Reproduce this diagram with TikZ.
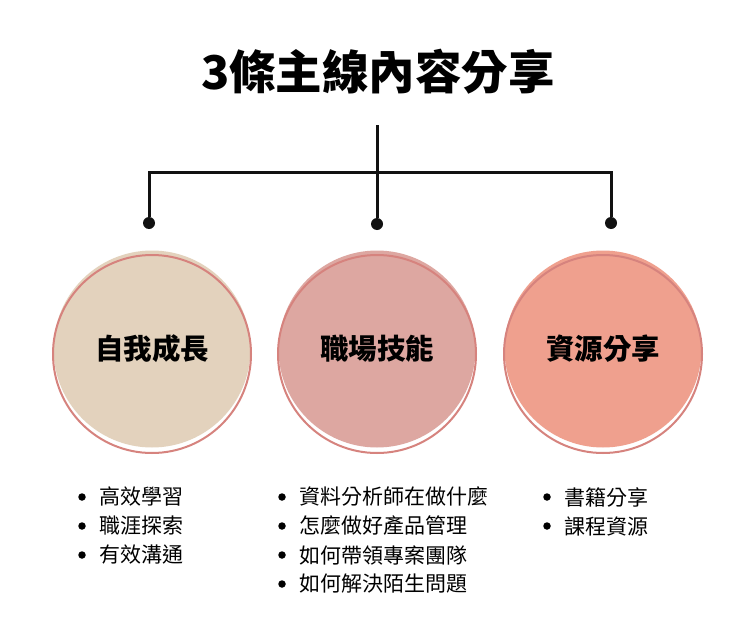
\documentclass[tikz,border=0pt]{standalone}
\usepackage{fontspec}
\setmainfont{Noto Sans CJK TC}
\usetikzlibrary{positioning}
\definecolor{growbeige}{HTML}{E3D2BD}
\definecolor{skillrose}{HTML}{DDA7A1}
\definecolor{sharesalmon}{HTML}{EFA08E}
\definecolor{ringpink}{HTML}{D6837E}
\definecolor{linedark}{HTML}{111111}

\begin{document}
\begin{tikzpicture}[
    x=1pt, y=-1pt,
    every node/.style={font=\fontsize{21}{25}\selectfont},
    topic/.style={circle, fill=#1, minimum size=197pt, inner sep=0pt,
                  font=\fontsize{28.5}{32}\selectfont\bfseries},
    ring/.style={draw=ringpink, line width=2pt},
    branch/.style={line width=3pt, color=linedark},
    dot/.style={circle, fill=linedark, minimum size=12pt, inner sep=0pt},
    bul/.style={circle, fill=black, minimum size=7.5pt, inner sep=0pt},
    item/.style={anchor=west, inner sep=0pt},
]

% -- Canvas --------------------------------------------------------
\useasboundingbox (0,0) rectangle (747,637);
\fill[white] (0,0) rectangle (747,637);

% -- Title ---------------------------------------------------------
\node[font=\fontsize{46.5}{52}\selectfont\bfseries] (title) at (378,72) {3條主線內容分享};

% -- Tree ----------------------------------------------------------
\coordinate (stem) at (377,125);
\coordinate (barL) at (149,172);
\coordinate (barR) at (611,172);
\node[dot] (dotA) at (149,223) {};
\node[dot] (dotB) at (377,224) {};
\node[dot] (dotC) at (611,223) {};
\draw[branch] (dotA) -- (barL) -- (barR) -- (dotC);
\draw[branch] (stem) -- (dotB);

% -- Topic circles -------------------------------------------------
\foreach \name/\x/\col/\txt in {grow/152/growbeige/自我成長,
                                skill/377/skillrose/職場技能,
                                share/603/sharesalmon/資源分享}{
  \node[topic=\col] (\name) at (\x,349) {\txt};
  \draw[ring] (\x,354) circle (99pt);
}

% -- Bullet lists --------------------------------------------------
\foreach \i/\txt in {1/高效學習, 2/職涯探索, 3/有效溝通}{
  \node[bul] (growb\i) at (82,{468+29*\i}) {};
  \node[item, right=13pt of growb\i] (growt\i) {\txt};
}
\foreach \i/\txt in {1/資料分析師在做什麼, 2/怎麼做好產品管理,
                     3/如何帶領專案團隊, 4/如何解決陌生問題}{
  \node[bul] (skillb\i) at (282,{468+29*\i}) {};
  \node[item, right=13pt of skillb\i] (skillt\i) {\txt};
}
\foreach \i/\txt in {1/書籍分享, 2/課程資源}{
  \node[bul] (shareb\i) at (547,{468+29*\i}) {};
  \node[item, right=13pt of shareb\i] (sharet\i) {\txt};
}

\end{tikzpicture}
\end{document}
